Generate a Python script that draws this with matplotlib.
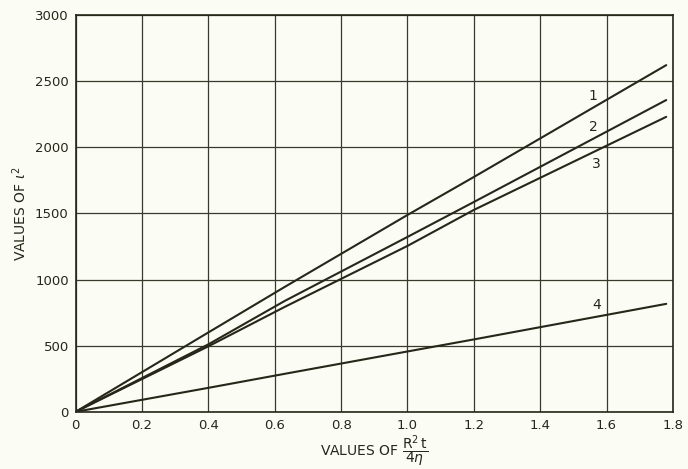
import matplotlib
matplotlib.use("Agg")
import matplotlib.pyplot as plt

# Data
x_vals = [0, 0.4, 0.63, 1.0, 1.2, 1.78]
line1 = [0, 600, 944, 1488, 1775, 2621]
line2 = [0, 510, 838, 1322, 1586, 2357]
line3 = [0, 495, 793, 1254, 1526, 2230]
line4 = [0, 181, 287, 456, 547, 816]
series = [line1, line2, line3, line4]
series_names = ["1", "2", "3", "4"]
label_pos = [(1.56, 2390), (1.56, 2155), (1.57, 1875), (1.57, 810)]

x_ticks = [0, 0.2, 0.4, 0.6, 0.8, 1.0, 1.2, 1.4, 1.6, 1.8]
x_ticklabels = ["0", "0.2", "0.4", "0.6", "0.8", "1.0", "1.2", "1.4", "1.6", "1.8"]
y_ticks = [0, 500, 1000, 1500, 2000, 2500, 3000]

bg = "#fbfcf4"
ink = "#262619"

plt.rcParams['font.family'] = ['DejaVu Sans']
fig = plt.figure(figsize=(6.88, 4.69), dpi=100, facecolor=bg)
ax = fig.add_axes([0.110, 0.122, 0.868, 0.846], facecolor=bg)

for s in series:
    ax.plot(x_vals, s, color=ink, lw=1.5, solid_capstyle='round')
for name, (lx, ly) in zip(series_names, label_pos):
    ax.text(lx, ly, name, color=ink, fontsize=10, ha='center', va='center')

ax.set_xlim(0, 1.8)
ax.set_ylim(0, 3000)
ax.set_xticks(x_ticks)
ax.set_xticklabels(x_ticklabels)
ax.set_yticks(y_ticks)
ax.grid(True, color="#3a3a2c", lw=0.9)
ax.set_axisbelow(True)
for sp in ax.spines.values():
    sp.set_color(ink)
    sp.set_linewidth(1.2)
ax.tick_params(length=0, labelsize=9.5, colors=ink, pad=5)
ax.set_ylabel(r"VALUES OF $\iota^2$", fontsize=10, color=ink, labelpad=4)
ax.set_xlabel(r"VALUES OF $\dfrac{\mathrm{R}^2\,\mathrm{t}}{4\eta}$", fontsize=10, color=ink, labelpad=1)

fig.savefig("out.png", dpi=100, facecolor=bg)
